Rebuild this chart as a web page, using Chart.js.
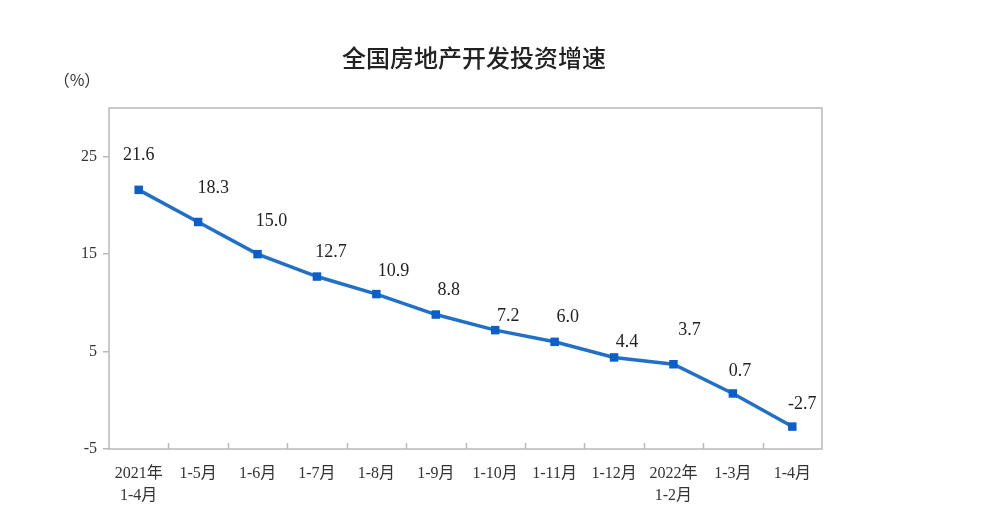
<!DOCTYPE html>
<html>
<head>
<meta charset="utf-8">
<script src="https://cdn.jsdelivr.net/npm/chart.js@4"></script>
<style>
  html, body { margin: 0; padding: 0; background: #fff; }
  #wrap { width: 996px; height: 530px; }
</style>
</head>
<body>
<div id="wrap"><canvas id="grafico" width="996" height="530"></canvas></div>
<script>
// dados
const categorias = [
  ['2021年', '1-4月'], '1-5月', '1-6月', '1-7月', '1-8月', '1-9月',
  '1-10月', '1-11月', '1-12月', ['2022年', '1-2月'], '1-3月', '1-4月'
];
const valores = [21.6, 18.3, 15.0, 12.7, 10.9, 8.8, 7.2, 6.0, 4.4, 3.7, 0.7, -2.7];
const ticksY = [-5, 5, 15, 25];
const titulo = '全国房地产开发投资增速';
const unidade = '（%）';

// deslocamento dos rotulos em relacao ao ponto (dx, dy)
const deslocRotulos = [
  [0, -35], [15, -34], [14, -33], [14, -24], [17, -23], [13, -24],
  [13, -14], [13, -25], [13, -15], [16, -34], [7, -22], [10, -22]
];

const serif = '"Liberation Serif", "Noto Sans CJK SC", serif';
const corTexto = '#333';
const corEixo = '#b9b9b9';

const molduraPlugin = {
  id: 'moldura',
  afterDraw(chart) {
    const ctx = chart.ctx;
    const a = chart.chartArea;
    const x = chart.scales.x;
    ctx.save();
    // caixa do grafico
    ctx.strokeStyle = corEixo;
    ctx.lineWidth = 1.5;
    ctx.strokeRect(a.left, a.top, a.right - a.left, a.bottom - a.top);
    // marcas do eixo x (para dentro)
    const passo = x.getPixelForValue(1) - x.getPixelForValue(0);
    for (let i = 1; i < categorias.length; i++) {
      const px = Math.round(x.getPixelForValue(i) - passo / 2) + 0.5;
      ctx.beginPath();
      ctx.moveTo(px, a.bottom);
      ctx.lineTo(px, a.bottom - 6);
      ctx.stroke();
    }
    // titulo e unidade
    ctx.fillStyle = '#222';
    ctx.font = '500 24px "Noto Sans CJK SC", sans-serif';
    ctx.textAlign = 'center';
    ctx.textBaseline = 'middle';
    ctx.fillText(titulo, 474, 58);
    ctx.fillStyle = corTexto;
    ctx.font = '16px "Noto Sans CJK SC", sans-serif';
    ctx.fillText(unidade, 77, 80);
    // rotulos dos pontos
    const meta = chart.getDatasetMeta(0);
    ctx.font = '18px ' + serif;
    ctx.fillStyle = '#222';
    meta.data.forEach((pt, i) => {
      const v = valores[i];
      const d = deslocRotulos[i];
      ctx.fillText(v.toFixed(1), pt.x + d[0], pt.y + d[1]);
    });
    ctx.restore();
  },
};

new Chart(document.getElementById('grafico'), {
  type: 'line',
  data: {
    labels: categorias,
    datasets: [
      {
        data: valores,
        borderColor: '#2170c8',
        borderWidth: 3.5,
        pointStyle: 'rect',
        pointRadius: 6,
        pointBackgroundColor: '#0b5fca',
        pointBorderColor: '#0b5fca',
        pointBorderWidth: 0,
        tension: 0,
      },
    ],
  },
  options: {
    responsive: false,
    animation: false,
    layout: { padding: { top: 108, right: 174, left: 0, bottom: 0 } },
    plugins: {
      legend: { display: false },
      tooltip: { enabled: false },
    },
    scales: {
      x: {
        offset: true,
        grid: { display: false },
        border: { display: false },
        ticks: {
          color: corTexto,
          font: { family: serif, size: 16, lineHeight: 1.35 },
          maxRotation: 0,
          autoSkip: false,
          padding: 6,
        },
        afterFit(scale) { scale.height = 81; },
      },
      y: {
        min: -5,
        max: 30,
        afterBuildTicks(scale) {
          scale.ticks = ticksY.map((v) => ({ value: v }));
        },
        grid: {
          drawOnChartArea: false,
          tickLength: 6,
          color: corEixo,
          lineWidth: 1.5,
        },
        border: { display: false },
        ticks: {
          color: corTexto,
          font: { family: serif, size: 16 },
          padding: 6,
        },
        afterFit(scale) { scale.width = 109; },
      },
    },
  },
  plugins: [molduraPlugin],
});
</script>
</body>
</html>
